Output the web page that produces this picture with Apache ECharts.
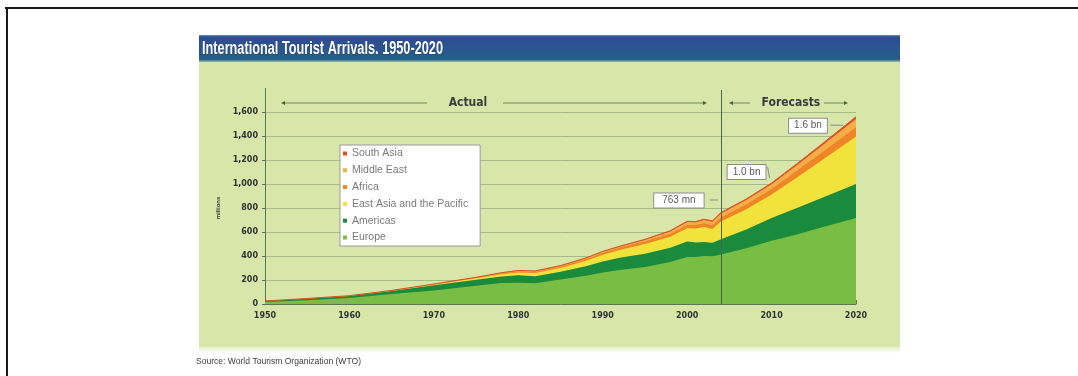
<!DOCTYPE html>
<html><head><meta charset="utf-8">
<script src="https://cdn.jsdelivr.net/npm/echarts@6/dist/echarts.min.js"></script>
<style>html,body{margin:0;padding:0;background:#fff}#c{width:1078px;height:376px}</style>
</head><body><div id="c"></div>
<script>
// ---- data (millions of international tourist arrivals) ----
const years = [1950,1955,1960,1965,1970,1975,1978,1980,1982,1985,1988,1990,1992,1995,1998,2000,2001,2002,2003,2004,2007,2010,2013,2016,2020];
const europe = [16.8,32,50.4,83.7,113,153,175,177.3,172,204.3,235,261.5,283,309.3,350,392.7,390.8,399.8,397.2,413,465,527,580,640,717];
const americas = [7.5,12,16.7,24.5,42.3,50,55,62.3,59,65.1,80,92.8,102,109,119,128.1,122.1,116.6,113.1,125.8,155,190,220,245,282];
const eastAsiaPacific = [0.2,0.6,0.9,2.4,6.2,11,18,23,27,31.1,45,56.2,66,82.4,91,110.1,115.7,126.1,114.2,148,170,195,255,315,397];
const africa = [0.5,0.7,0.8,1.3,2.4,4.7,6,7.2,7.5,9.7,12.5,15.2,18,20.1,25,28.2,28.9,29.5,30.8,33.2,40,47,55,64,77];
const middleEast = [0.2,0.5,0.6,1.2,1.9,2.5,5,7.1,8,7.5,8.5,9.6,9,13.7,20,24.2,23.6,28.5,30,35,36,38,46,56,69];
const southAsia = [0.1,0.1,0.2,0.4,0.9,1.2,2,2.3,2.4,2.5,3,3.2,3.6,4.2,5.6,6.1,5.8,6.4,6.9,7.6,9,11,13,15,19];
const seriesNames = ['Europe','Americas','East Asia and the Pacific','Africa','Middle East','South Asia'];
const legendOrder = ['South Asia','Middle East','Africa','East Asia and the Pacific','Americas','Europe'];
const xTickLabels = ['1950','1960','1970','1980','1990','2000','2010','2020'];
const yTickLabels = ['0','200','400','600','800','1,000','1,200','1,400','1,600'];
const forecastStartYear = 2004;
const annotYears = [2004, 2010, 2020];
const annotTexts = ['763 mn', '1.0 bn', '1.6 bn'];
const titleText = 'International Tourist Arrivals. 1950-2020';
const sourceText = 'Source: World Tourism Organization (WTO)';

// ---- styling ----
const values = [europe, americas, eastAsiaPacific, africa, middleEast, southAsia];
const colors = ['#7abd44','#1a8a3c','#f2e23c','#ee8526','#f5ad48','#dc5026'];
const annotOffsets = [[-42,-12],[-25,-11],[-48,9]];
const annotPadding = [[1,8],[1,5],[1,5]];

// cumulative (stacked) tops, computed from the series arrays
const cumulative = values.map((_, i) => years.map((y, j) => {
  let s = 0; for (let k = 0; k <= i; k++) s += values[k][j]; return s;
}));
const totalAt = yr => cumulative[5][years.indexOf(yr)];

const chart = echarts.init(document.getElementById('c'), null, {renderer:'canvas'});

// draw top layer first so lower layers paint over it (visual stacking)
const series = [5,4,3,2,1,0].map(i => ({
  name: seriesNames[i], type:'line', symbol:'none', showSymbol:false,
  data: years.map((y,j)=>[y, cumulative[i][j]]),
  lineStyle:{width: i===5?1:0, color: colors[i]},
  itemStyle:{color: colors[i]},
  areaStyle:{color: colors[i], opacity:1, origin:'start'},
  emphasis:{disabled:true}, silent:true,
  markPoint: i===5 ? {
    symbol:'rect', symbolSize:1, silent:true,
    itemStyle:{color:'rgba(0,0,0,0)'},
    data: annotYears.map((yr,k)=>({
      name: annotTexts[k], coord:[yr, totalAt(yr)],
      label:{offset: annotOffsets[k], padding: annotPadding[k]}
    })),
    label:{show:true, position:'inside', formatter:'{b}', fontSize:10, color:'#5a5a5a',
      fontFamily:'Liberation Sans, Arial, sans-serif', lineHeight:12,
      backgroundColor:'#ffffff', borderColor:'#8e8e8e', borderWidth:1}
  } : undefined
}));

const axisFont = 'DejaVu Sans, sans-serif';
const option = {
  animation:false,
  backgroundColor:'#ffffff',
  grid:{left:265, right:222, top:112, bottom:72, containLabel:false},
  legend:{
    data: legendOrder, orient:'vertical', left:340, top:145,
    icon:'rect', itemWidth:4, itemHeight:4, itemGap:5.8,
    backgroundColor:'#ffffff', borderColor:'#9a9a9a', borderWidth:1,
    padding:[3,12,3,3], selectedMode:false,
    textStyle:{fontSize:10.5, color:'#7a7a7a', lineHeight:10,
      fontFamily:'Liberation Sans, Arial, sans-serif'}
  },
  xAxis:{
    type:'value', min:1950, max:2020, interval:10,
    axisLine:{lineStyle:{color:'#5b7650', width:1}},
    axisTick:{show:true, inside:true, length:4, lineStyle:{color:'#5b7650'}},
    splitLine:{show:false},
    axisLabel:{margin:8, fontSize:8, fontWeight:'bold', color:'#333333', fontFamily:axisFont,
      formatter: v => xTickLabels[Math.round((v-1950)/10)] || ''}
  },
  yAxis:{
    type:'value', min:0, max:1600, interval:200,
    name:'millions', nameLocation:'middle', nameGap:42, nameRotate:90,
    nameTextStyle:{fontSize:6, fontWeight:'bold', color:'#3a3a3a'},
    axisLine:{show:true, lineStyle:{color:'#5b7650', width:1}},
    axisTick:{show:true, length:3, lineStyle:{color:'#5b7650'}},
    splitLine:{show:true, lineStyle:{color:'#a3bb86', width:1}},
    axisLabel:{margin:7, fontSize:8, fontWeight:'bold', color:'#333333', fontFamily:axisFont,
      formatter: v => yTickLabels[Math.round(v/200)] || ''}
  },
  series
};
chart.setOption(option);

// measure helper
const mctx = document.createElement('canvas').getContext('2d');
function measure(font, t){ mctx.font = font; return mctx.measureText(t).width; }

const px = (x,y) => chart.convertToPixel({gridIndex:0}, [x,y]);
const [xl, y0] = px(1950, 0);
const [xr, yTop] = px(2020, 1600);
const [dx] = px(forecastStartYear, 0);
const hy = yTop - 9; // header row
const pts = annotYears.map(yr => px(yr, totalAt(yr)));

const titleFont = 'bold 19px "Liberation Sans Narrow", "Liberation Sans", sans-serif';
const titleScale = 241 / measure(titleFont, titleText);
const srcFont = '9px "Liberation Sans Narrow", "Liberation Sans", sans-serif';
const srcScale = 165 / measure(srcFont, sourceText);
const hdrFont = 'bold 12px "DejaVu Sans Condensed", "DejaVu Sans", sans-serif';

const lineC = '#6f8a62';
const arrowR = (x,y,c)=>({type:'polygon', shape:{points:[[x,y-2],[x+4,y],[x,y+2]]}, style:{fill:c}, z:5});
const arrowL = (x,y,c)=>({type:'polygon', shape:{points:[[x,y-2],[x-4,y],[x,y+2]]}, style:{fill:c}, z:5});

const graphic = [
  // page frame lines
  {type:'rect', shape:{x:5, y:7, width:1073, height:2}, style:{fill:'#1a1a1a'}, z:-20},
  {type:'rect', shape:{x:6, y:7, width:2, height:369}, style:{fill:'#1a1a1a'}, z:-20},
  // panel
  {type:'rect', shape:{x:199, y:62, width:701, height:286}, style:{fill:'#d9e6aa'}, z:-20},
  {type:'rect', shape:{x:199, y:347, width:701, height:6},
    style:{fill:new echarts.graphic.LinearGradient(0,0,0,1,[{offset:0,color:'#e6efc9'},{offset:1,color:'#ffffff'}])}, z:-20},
  {type:'rect', shape:{x:199, y:35, width:701, height:27},
    style:{fill:new echarts.graphic.LinearGradient(0,0,0,1,[
      {offset:0,color:'#6c98ac'},{offset:0.07,color:'#2f4c93'},{offset:0.5,color:'#2b5590'},
      {offset:0.9,color:'#235f83'},{offset:1,color:'#9db9a8'}])}, z:-20},
  {type:'text', x:202, y:48.5, scaleX:titleScale, originX:0,
    style:{text:titleText, font:titleFont, fill:'#ffffff', verticalAlign:'middle', align:'left',
      stroke:'#1d3560', lineWidth:0.6}, z:10},
  {type:'text', x:196, y:362, scaleX:srcScale, originX:0,
    style:{text:sourceText, font:srcFont, fill:'#3c3c3c', verticalAlign:'middle', align:'left'}, z:10},
  // y axis extension and divider
  {type:'line', shape:{x1:xl+0.5, y1:88, x2:xl+0.5, y2:yTop}, style:{stroke:'#5b7650', lineWidth:1}, z:5},
  {type:'line', shape:{x1:Math.round(dx)+0.5, y1:90, x2:Math.round(dx)+0.5, y2:y0}, style:{stroke:'#4b6645', lineWidth:1}, z:5},
  // Actual header
  {type:'line', shape:{x1:xl+18, y1:hy, x2:xl+162, y2:hy}, style:{stroke:lineC, lineWidth:1}, z:5},
  {type:'line', shape:{x1:xl+238, y1:hy, x2:dx-16, y2:hy}, style:{stroke:lineC, lineWidth:1}, z:5},
  arrowL(xl+20, hy, '#4a5e40'),
  arrowR(dx-18, hy, '#4a5e40'),
  {type:'text', x:xl+203, y:hy, style:{text:'Actual', font:hdrFont, fill:'#3c3c3c', align:'center', verticalAlign:'middle'}, z:5},
  // Forecasts header
  {type:'line', shape:{x1:dx+12, y1:hy, x2:dx+29, y2:hy}, style:{stroke:lineC, lineWidth:1}, z:5},
  {type:'line', shape:{x1:dx+103, y1:hy, x2:dx+123, y2:hy}, style:{stroke:lineC, lineWidth:1}, z:5},
  arrowL(dx+12, hy, '#4a5e40'),
  arrowR(dx+123, hy, '#4a5e40'),
  {type:'text', x:dx+70, y:hy, style:{text:'Forecasts', font:hdrFont, fill:'#3c3c3c', align:'center', verticalAlign:'middle'}, z:5},
  // annotation connectors
  {type:'line', shape:{x1:pts[0][0]-11, y1:pts[0][1]-12.5, x2:pts[0][0]-3, y2:pts[0][1]-12.5}, style:{stroke:'#8a8a8a', lineWidth:1}, z:5},
  {type:'line', shape:{x1:pts[1][0]-4, y1:pts[1][1]-16, x2:pts[1][0]-2, y2:pts[1][1]-5}, style:{stroke:'#8a8a8a', lineWidth:1}, z:5},
  {type:'line', shape:{x1:pts[2][0]-26, y1:pts[2][1]+8.5, x2:pts[2][0]-13, y2:pts[2][1]+8.5}, style:{stroke:'#8a8a8a', lineWidth:1}, z:5}
];
chart.setOption({graphic});
</script>
</body></html>
